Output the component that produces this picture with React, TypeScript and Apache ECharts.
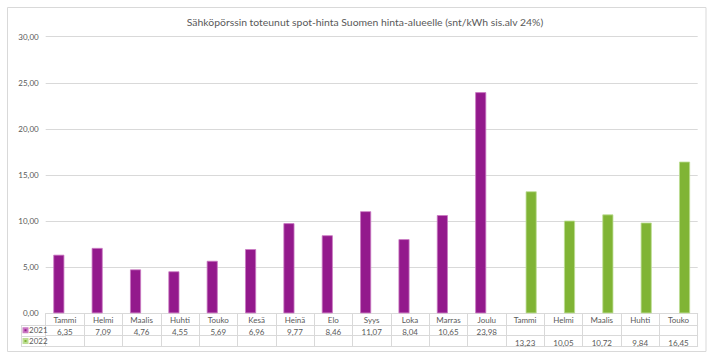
import React, { useEffect, useRef } from "react";
import * as echarts from "echarts";

const title = "Sähköpörssin toteunut spot-hinta Suomen hinta-alueelle (snt/kWh sis.alv 24%)";
const categories = [
  "Tammi", "Helmi", "Maalis", "Huhti", "Touko", "Kesä", "Heinä", "Elo", "Syys", "Loka", "Marras", "Joulu",
  "Tammi", "Helmi", "Maalis", "Huhti", "Touko",
];
const series2021 = [6.35, 7.09, 4.76, 4.55, 5.69, 6.96, 9.77, 8.46, 11.07, 8.04, 10.65, 23.98, null, null, null, null, null];
const series2022 = [null, null, null, null, null, null, null, null, null, null, null, null, 13.23, 10.05, 10.72, 9.84, 16.45];
const seriesNames = ["2021", "2022"];
const yTicks = { min: 0, max: 30, interval: 5 };

const FONT = "Lato, 'Open Sans', sans-serif";
const TXT = "#595959";
const LINE = "#D9D9D9";
const PURPLE = "#93198C";
const GREEN = "#80B435";

const fmt = (v: number | null) => (v == null ? "" : v.toFixed(2).replace(".", ","));

export default function App() {
  const ref = useRef<HTMLDivElement>(null);
  useEffect(() => {
    if (!ref.current) return;
    const chart = echarts.init(ref.current, null, { renderer: "svg" });
    const gridLeft = 45.7;
    const gridRight = 697.7;
    const gridBottomY = 313.3;
    const rowLines = [325, 335.5, 346];
    const baseX = {
      type: "category" as const,
      data: categories,
      gridIndex: 0,
      position: "bottom" as const,
      boundaryGap: true,
      axisLine: { show: true, lineStyle: { color: LINE, width: 1 } },
      axisTick: { show: false },
      splitLine: { show: false },
    };
    const legendBase = {
      orient: "vertical" as const,
      left: 22.5,
      padding: 0,
      itemWidth: 4,
      itemHeight: 4,
      itemGap: 0,
      icon: "rect",
      textStyle: { fontFamily: FONT, fontSize: 8, color: TXT, lineHeight: 10, padding: [0, 0, 0, -3.5] },
    };
    chart.setOption({
      animation: false,
      backgroundColor: "#ffffff",
      textStyle: { fontFamily: FONT },
      title: {
        text: title,
        left: 360,
        textAlign: "center",
        top: 12,
        textStyle: { fontFamily: FONT, fontSize: 10.4, fontWeight: "normal", color: TXT },
      },
      legend: [
        { ...legendBase, data: [seriesNames[0]], top: rowLines[0] + 0.3 },
        { ...legendBase, data: [seriesNames[1]], top: rowLines[1] + 0.5 },
      ],
      grid: { left: gridLeft, right: 712 - gridRight, top: 36.7, bottom: 359 - gridBottomY },
      yAxis: {
        type: "value",
        min: yTicks.min,
        max: yTicks.max,
        interval: yTicks.interval,
        axisLine: { show: false },
        axisTick: { show: false },
        axisLabel: { formatter: (v: number) => fmt(v), color: TXT, fontSize: 8, fontFamily: FONT, margin: 7 },
        splitLine: { lineStyle: { color: LINE, width: 1 } },
      },
      xAxis: [
        {
          ...baseX,
          offset: 0,
          axisTick: { show: true, alignWithLabel: false, length: rowLines[2] - gridBottomY, lineStyle: { color: LINE } },
          axisLabel: { color: TXT, fontSize: 8, fontFamily: FONT, margin: 2.5, interval: 0 },
        },
        {
          ...baseX,
          offset: rowLines[0] - gridBottomY,
          axisLabel: {
            color: TXT, fontSize: 8, fontFamily: FONT, margin: 3, interval: 0,
            formatter: (_v: string, i: number) => fmt(series2021[i]),
          },
        },
        {
          ...baseX,
          offset: rowLines[1] - gridBottomY,
          axisLabel: {
            color: TXT, fontSize: 8, fontFamily: FONT, margin: 3, interval: 0,
            formatter: (_v: string, i: number) => fmt(series2022[i]),
          },
        },
        {
          ...baseX,
          offset: rowLines[2] - gridBottomY,
          axisLabel: { show: false },
        },
      ],
      series: [
        {
          name: seriesNames[0],
          type: "bar",
          xAxisIndex: 0,
          data: series2021,
          barWidth: 11,
          barGap: "10%",
          itemStyle: { color: PURPLE, borderColor: "#C978C2", borderWidth: 0.8 },
        },
        {
          name: seriesNames[1],
          type: "bar",
          xAxisIndex: 0,
          data: series2022,
          barWidth: 11,
          barGap: "10%",
          itemStyle: { color: GREEN, borderColor: "#BCDD93", borderWidth: 0.8 },
        },
      ],
      graphic: [
        {
          type: "rect",
          shape: { x: 7.5, y: 7.5, width: 698.5, height: 344 },
          style: { fill: "none", stroke: LINE, lineWidth: 1 },
          silent: true,
        },
        ...rowLines.map((y) => ({
          type: "line",
          shape: { x1: 21, y1: Math.round(y) + 0.5, x2: gridLeft, y2: Math.round(y) + 0.5 },
          style: { stroke: LINE, lineWidth: 1 },
          silent: true,
        })),
        {
          type: "line",
          shape: { x1: 21.5, y1: Math.round(rowLines[0]) + 0.5, x2: 21.5, y2: Math.round(rowLines[2]) + 0.5 },
          style: { stroke: LINE, lineWidth: 1 },
          silent: true,
        },
      ],
    });
    return () => chart.dispose();
  }, []);
  return (
    <div
      ref={ref}
      style={{ position: "fixed", left: 0, top: 0, width: 712, height: 359, background: "#fff" }}
    />
  );
}
